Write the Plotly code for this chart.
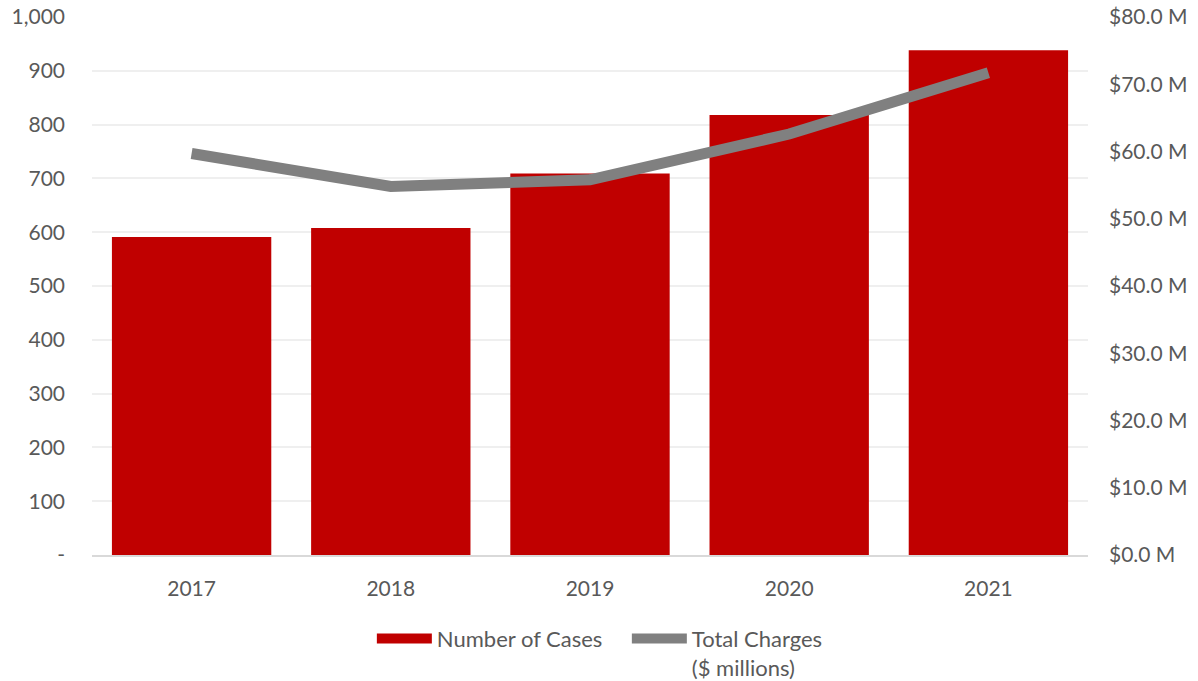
import plotly.graph_objects as go

# Annual data
years = ["2017", "2018", "2019", "2020", "2021"]
cases = [591, 608, 709, 818, 938]
charges_m = [59.7, 54.8, 55.8, 62.6, 71.7]

# Axis ticks
case_ticks = [0, 100, 200, 300, 400, 500, 600, 700, 800, 900, 1000]
case_tick_text = ["-", "100", "200", "300", "400", "500", "600", "700", "800", "900", "1,000"]
charge_ticks = [0, 10, 20, 30, 40, 50, 60, 70, 80]
charge_tick_text = [f"${v:.1f} M" for v in charge_ticks]

RED = "#C00000"
GREY = "#808080"
TEXT = "#595959"
FONT = "Lato, 'Open Sans', sans-serif"
FS = 21

fig = go.Figure()

fig.add_trace(go.Bar(
    x=years, y=cases, name="Number of Cases",
    marker=dict(color=RED, line=dict(width=0)),
    showlegend=False, yaxis="y",
))
# legend swatch drawn as a wide band
fig.add_trace(go.Scatter(
    x=[None], y=[None], mode="lines", name="Number of Cases",
    line=dict(color=RED, width=14), hoverinfo="skip",
))
fig.add_trace(go.Scatter(
    x=years, y=charges_m, name="Total Charges<br>($ millions)",
    mode="lines", line=dict(color=GREY, width=11),
    yaxis="y2",
))

fig.update_layout(
    width=1198, height=681,
    margin=dict(l=92, r=110, t=17, b=126, autoexpand=False),
    paper_bgcolor="white", plot_bgcolor="white",
    font=dict(family=FONT, size=FS, color=TEXT),
    bargap=0.2,
    xaxis=dict(
        type="category", showgrid=False, ticks="", tickfont=dict(size=FS, color=TEXT),
        showline=True, linecolor="#D9D9D9", linewidth=2, ticklabelstandoff=14,
        automargin=False,
    ),
    yaxis=dict(
        range=[0, 1000], tickvals=case_ticks, ticktext=case_tick_text,
        showgrid=True, gridcolor="#EFEFEF", gridwidth=2, zeroline=False,
        ticks="", ticklabelstandoff=26, tickfont=dict(size=FS, color=TEXT),
        automargin=False,
    ),
    yaxis2=dict(
        range=[0, 80], tickvals=charge_ticks, ticktext=charge_tick_text,
        overlaying="y", side="right",
        showgrid=False, zeroline=False, ticks="", ticklabelstandoff=20,
        tickfont=dict(size=FS, color=TEXT), automargin=False,
    ),
    legend=dict(
        orientation="h", x=0.537, xanchor="center",
        yref="container", y=0.093, yanchor="top",
        itemwidth=55, entrywidth=185, entrywidthmode="pixels",
        font=dict(size=22, color=TEXT), valign="top",
        traceorder="normal",
    ),
)

fig.write_html("out.html")
